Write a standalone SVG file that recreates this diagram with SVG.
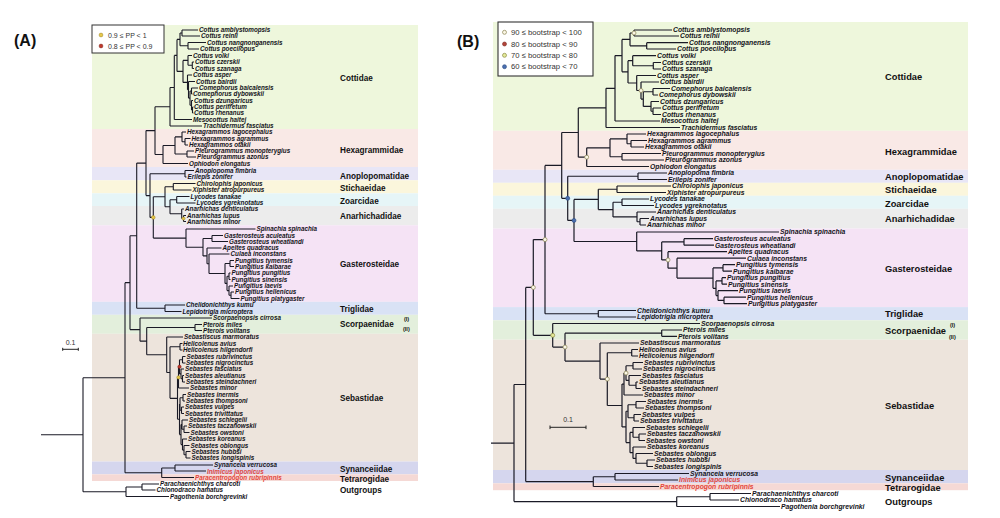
<svg xmlns="http://www.w3.org/2000/svg" width="1000" height="518" viewBox="0 0 1000 518">
<style>
.tA{font-family:"Liberation Sans",Arial,sans-serif;font-style:italic;font-weight:bold;font-size:6.3px;fill:#141420}
.tB{font-family:"Liberation Sans",Arial,sans-serif;font-style:italic;font-weight:bold;font-size:6.8px;fill:#141420}
.red{fill:#e4473c}
.fA{font-family:"Liberation Sans",Arial,sans-serif;font-weight:bold;font-size:8.2px;fill:#111}
.fB{font-family:"Liberation Sans",Arial,sans-serif;font-weight:bold;font-size:9.3px;fill:#111}
.rom{font-family:"Liberation Sans",Arial,sans-serif;font-weight:bold;font-size:5.5px;fill:#111}
.lg{font-family:"Liberation Sans",Arial,sans-serif;font-size:7px;fill:#333}
.lgB{font-family:"Liberation Sans",Arial,sans-serif;font-size:7.7px;fill:#333}
.pl{font-family:"Liberation Sans",Arial,sans-serif;font-weight:bold;font-size:16px;fill:#111}
.br{fill:none;stroke:#1a1a26;stroke-width:1.1}
.brB{fill:none;stroke:#1a1a26;stroke-width:1.2}
.c90{fill:#fbf7e6;stroke:#8a8250;stroke-width:0.7}
.c80{fill:#b4443a;stroke:#7a2a22;stroke-width:0.6}
.c70{fill:#e4ea9a;stroke:#8a8a40;stroke-width:0.7}
.c60{fill:#4a6fb0;stroke:#2a4a80;stroke-width:0.6}
.cy{fill:#e6c84a;stroke:#9a8020;stroke-width:0.5}
.cr{fill:#c0392b;stroke:#7a2018;stroke-width:0.5}
.sc{fill:none;stroke:#222;stroke-width:1}
</style>
<rect x="0" y="0" width="1000" height="518" fill="#fff"/>

<!-- ================= PANEL A ================= -->
<g id="A-bands">
<rect x="92" y="25" width="326" height="104" fill="#eef7dc"/>
<rect x="92" y="129" width="326" height="38" fill="#f9e9e6"/>
<rect x="92" y="167" width="326" height="13.3" fill="#e8e6f6"/>
<rect x="92" y="180.3" width="326" height="13" fill="#fbf6dc"/>
<rect x="92" y="193.3" width="326" height="12.7" fill="#e6f5f7"/>
<rect x="92" y="206" width="326" height="19.3" fill="#ececec"/>
<rect x="92" y="225.3" width="326" height="76.5" fill="#f5e3f5"/>
<rect x="92" y="301.8" width="326" height="13" fill="#d9e2f5"/>
<rect x="92" y="314.8" width="326" height="19" fill="#e3efdc"/>
<rect x="92" y="333.8" width="326" height="127.7" fill="#ede4dc"/>
<rect x="92" y="461.5" width="326" height="12.8" fill="#d5d6ee"/>
<rect x="92" y="474.3" width="326" height="6.7" fill="#f5d9d5"/>
</g>
<text class="pl" x="14" y="46">(A)</text>
<g id="A-legend">
<rect x="92" y="25" width="72" height="28" fill="#fff" stroke="#333" stroke-width="1"/>
<circle class="cy" cx="101" cy="35" r="1.9"/>
<text class="lg" x="108" y="37.5">0.9 ≤ PP &lt; 1</text>
<circle class="cr" cx="101" cy="46" r="1.9"/>
<text class="lg" x="108" y="48.5">0.8 ≤ PP &lt; 0.9</text>
</g>
<g id="A-scale">
<text class="lg" x="70.5" y="345" text-anchor="middle" font-size="6.5">0.1</text>
<path class="sc" d="M62.7 349.3H78.3M62.7 347.8V350.8M78.3 347.8V350.8"/>
</g>
<g id="A-connectors">
<path class="br" d="M41 434.7H83M83 377.7V491.75M83 377.7H125M125 282.65V472.75M83 491.75H126M126 487V496.5M126 487H142M142 484V490M142 484H159M142 490H155.5M126 496.5H169
M125 472.75H161.7M161.7 468V477.5M161.7 468H175M175 465V471M175 465H213M175 471H206M161.7 477.5H194
M125 282.65H130M130 235.7V329.6M130 235.7H136.7M136.7 163.1V308.25M136.7 308.25H165M165 305V311.5M165 305H185M165 311.5H181.5
M136.7 163.1H146M146 130.6V195.6M146 130.6H155M155 106.7V154.5
M155 106.7H170M170 87.45V126M170 126H202M170 87.45H174.3M174.3 55.4V119.5M174.3 119.5H192
M174.3 55.4H177M177 39.4V71.4M177 39.4H180M180 33V45.75M180 33H182M182 30V36M182 30H198M182 36H200M180 45.75H188M188 42.5V49M188 42.5H206M188 49H199
M177 71.4H183M183 60.4V82.4M183 60.4H188M188 55.5V65.25M188 55.5H192M188 65.25H192.3M192.3 62V68.5M192.3 62H194M192.3 68.5H194
M183 82.4H187.5M187.5 75V89.8M187.5 75H192M187.5 89.8H188.5M188.5 81.5V98.1M188.5 81.5H195M188.5 98.1H190M190 91V105.25M190 91H191.5M191.5 88V94M191.5 88H198M191.5 94H192.5M190 105.25H191.5M191.5 100.5V110M191.5 100.5H193M191.5 110H192.5M192.5 107V113M192.5 107H193.5M192.5 113H193.5
M155 154.5H163M163 145.45V163.5M163 163.5H188M163 145.45H175M175 136.9V154M175 136.9H182M182 132V141.75M182 132H186M182 141.75H185M185 138.5V145M185 138.5H190.5M185 145H188M175 154H187M187 151V157M187 151H194M187 157H196
M146 195.6H150M150 173.75V217.4M150 173.75H185M185 170.5V177M185 170.5H194M185 177H186.5
M150 217.4H153.3M153.3 196.75V238.1M153.3 196.75H165M165 186.75V206.75M165 186.75H173.3M173.3 183.5V190M173.3 183.5H195.5M173.3 190H191.5
M165 206.75H170M170 199.75V213.75M170 199.75H176.7M176.7 196.5V203M176.7 196.5H189.5M176.7 203H195.5M170 213.75H181.7M181.7 209V218.5M181.7 209H184M181.7 218.5H183.5M183.5 215.5V221.5M183.5 215.5H186M183.5 221.5H186
M153.3 238.1H186M186 229V247.2M186 229H255.5M186 247.2H203M203 238.5V255.9M203 238.5H212M212 235.5V241.5M212 235.5H223M212 241.5H228
M203 255.9H207M207 248V263.7M207 248H221.5M207 263.7H209M209 254V273.5M209 254H229.5M209 273.5H225M225 263.5V283.4M225 263.5H230M230 260.5V266.5M230 260.5H234M230 266.5H234
M225 283.4H227M227 276.25V290.6M227 276.25H229M229 273V279.5M229 273H230.5M229 279.5H230.5M227 290.6H229M229 286V295.25M229 286H233M229 295.25H231M231 292V298.5M231 292H234M231 298.5H239.5
M130 329.6H140M140 318V341.15M140 318H212M140 341.15H146.7M146.7 327.5V354.8M146.7 327.5H195M195 324.5V330.5M195 324.5H202M195 330.5H202
M146.7 354.8H166.7M166.7 337V372.55M166.7 337H183M166.7 372.55H170M170 346.75V398.35M170 346.75H180M180 343.5V350M180 343.5H182.5M180 350H182.5"/>
<path class="br" stroke-width="1.4" d="M170 398.35H177.5M177.5 377.4V419.3M177.5 377.4H178.5M178.5 366.8V388M178.5 388H189M178.5 366.8H179.5M179.5 359.75V373.9M179.5 359.75H182.5M182.5 356.5V363M182.5 356.5H185.5M182.5 363H185.5M179.5 373.9H181M181 369V378.75M181 369H184M181 378.75H182.5M182.5 375.5V382M182.5 375.5H184M182.5 382H185
M177.5 419.3H179.5M179.5 404V434.6M179.5 404H180M180 397.75V410.25M180 397.75H183M183 394.5V401M183 394.5H186M183 401H185M180 410.25H181.5M181.5 407V413.5M181.5 407H184M181.5 413.5H184
M179.5 434.6H181M181 424.6V444.6M181 424.6H182M182 420V429.25M182 420H188M182 429.25H184M184 426V432.5M184 426H187M184 432.5H189.5M181 444.6H182.5M182.5 439V450.1M182.5 439H187M182.5 450.1H184M184 445.5V454.75M184 445.5H189.5M184 454.75H186M186 451.5V458M186 451.5H190.5M186 458H190.5"/>
<circle class="cy" cx="153.3" cy="217.4" r="1.8"/>
<circle class="cy" cx="183.5" cy="218.5" r="1.6"/>
<circle class="cr" cx="179.5" cy="366.8" r="1.7"/>
<circle class="cy" cx="178.5" cy="377.4" r="1.7"/>
</g>
<g id="A-taxa">
<g id="A-cottidae">
<text class="tA" x="199" y="32.2">Cottus amblystomopsis</text>
<text class="tA" x="201" y="38.2">Cottus reinii</text>
<text class="tA" x="207" y="44.7">Cottus nangnonganensis</text>
<text class="tA" x="200" y="51.2">Cottus poecilopus</text>
<text class="tA" x="193" y="57.7">Cottus volki</text>
<text class="tA" x="195" y="64.2">Cottus czerskii</text>
<text class="tA" x="195" y="70.7">Cottus szanaga</text>
<text class="tA" x="193" y="77.2">Cottus asper</text>
<text class="tA" x="196" y="83.7">Cottus bairdii</text>
<text class="tA" x="199" y="90.2">Comephorus baicalensis</text>
<text class="tA" x="193" y="96.2">Comephorus dybowskii</text>
<text class="tA" x="194" y="102.7">Cottus dzungaricus</text>
<text class="tA" x="194" y="109.2">Cottus perifretum</text>
<text class="tA" x="194" y="115.2">Cottus rhenanus</text>
<text class="tA" x="193" y="121.7">Mesocottus haitej</text>
<text class="tA" x="203" y="128.2">Trachidermus fasciatus</text>
<text class="fA" x="340" y="81">Cottidae</text>
</g>
<g id="A-hexagrammidae">
<text class="tA" x="187" y="134.2">Hexagrammos lagocephalus</text>
<text class="tA" x="191.5" y="140.7">Hexagrammos agrammus</text>
<text class="tA" x="189" y="147.2">Hexagrammos otakii</text>
<text class="tA" x="195" y="153.2">Pleurogrammus monopterygius</text>
<text class="tA" x="197" y="159.2">Pleurogrammus azonus</text>
<text class="tA" x="189" y="165.7">Ophiodon elongatus</text>
<text class="fA" x="340" y="153">Hexagrammidae</text>
</g>
<g id="A-anoplopomatidae">
<text class="tA" x="195" y="172.7">Anoplopoma fimbria</text>
<text class="tA" x="187.5" y="179.2">Erilepis zonifer</text>
<text class="fA" x="340" y="178.5">Anoplopomatidae</text>
</g>
<g id="A-stichaeidae">
<text class="tA" x="196.5" y="185.7">Chirolophis japonicus</text>
<text class="tA" x="192.5" y="192.2">Xiphister atropurpureus</text>
<text class="fA" x="340" y="191">Stichaeidae</text>
</g>
<g id="A-zoarcidae">
<text class="tA" x="190.5" y="198.7">Lycodes tanakae</text>
<text class="tA" x="196.5" y="205.2">Lycodes ygreknotatus</text>
<text class="fA" x="340" y="204">Zoarcidae</text>
</g>
<g id="A-anarhichadidae">
<text class="tA" x="185" y="211.2">Anarhichas denticulatus</text>
<text class="tA" x="187" y="217.7">Anarhichas lupus</text>
<text class="tA" x="187" y="223.7">Anarhichas minor</text>
<text class="fA" x="340" y="219">Anarhichadidae</text>
</g>
<g id="A-gasterosteidae">
<text class="tA" x="256.5" y="231.2">Spinachia spinachia</text>
<text class="tA" x="224" y="237.7">Gasterosteus aculeatus</text>
<text class="tA" x="229" y="243.7">Gasterosteus wheatlandi</text>
<text class="tA" x="222.5" y="250.2">Apeltes quadracus</text>
<text class="tA" x="230.5" y="256.2">Culaea inconstans</text>
<text class="tA" x="235" y="262.7">Pungitius tymensis</text>
<text class="tA" x="235" y="268.7">Pungitius kaibarae</text>
<text class="tA" x="231.5" y="275.2">Pungitius pungitius</text>
<text class="tA" x="231.5" y="281.7">Pungitius sinensis</text>
<text class="tA" x="234" y="288.2">Pungitius laevis</text>
<text class="tA" x="235" y="294.2">Pungitius hellenicus</text>
<text class="tA" x="240.5" y="300.7">Pungitius platygaster</text>
<text class="fA" x="340" y="267">Gasterosteidae</text>
</g>
<g id="A-triglidae">
<text class="tA" x="186" y="307.2">Chelidonichthys kumu</text>
<text class="tA" x="182.5" y="313.7">Lepidotrigla microptera</text>
<text class="fA" x="340" y="312">Triglidae</text>
</g>
<g id="A-scorpaenidae">
<text class="tA" x="213" y="320.2">Scorpaenopsis cirrosa</text>
<text class="tA" x="203" y="326.7">Pterois miles</text>
<text class="tA" x="203" y="332.7">Pterois volitans</text>
<text class="fA" x="340" y="327">Scorpaenidae</text>
<text class="rom" x="404" y="320.5">(I)</text>
<text class="rom" x="403" y="330.5">(II)</text>
</g>
<g id="A-sebastidae">
<text class="tA" x="184" y="339.2">Sebastiscus marmoratus</text>
<text class="tA" x="183" y="345.7">Helicolenus avius</text>
<text class="tA" x="183" y="352.2">Helicolenus hilgendorfi</text>
<text class="tA" x="186.5" y="358.7">Sebastes rubrivinctus</text>
<text class="tA" x="186" y="365.2">Sebastes nigrocinctus</text>
<text class="tA" x="185" y="371.2">Sebastes fasciatus</text>
<text class="tA" x="185" y="377.7">Sebastes aleutianus</text>
<text class="tA" x="186" y="384.2">Sebastes steindachneri</text>
<text class="tA" x="190" y="390.2">Sebastes minor</text>
<text class="tA" x="187" y="396.7">Sebastes inermis</text>
<text class="tA" x="186" y="403.2">Sebastes thompsoni</text>
<text class="tA" x="185" y="409.2">Sebastes vulpes</text>
<text class="tA" x="185" y="415.7">Sebastes trivittatus</text>
<text class="tA" x="189" y="422.2">Sebastes schlegelii</text>
<text class="tA" x="188" y="428.2">Sebastes taczanowskii</text>
<text class="tA" x="190.5" y="434.7">Sebastes owstoni</text>
<text class="tA" x="188" y="441.2">Sebastes koreanus</text>
<text class="tA" x="190.5" y="447.7">Sebastes oblongus</text>
<text class="tA" x="191.5" y="453.7">Sebastes hubbsi</text>
<text class="tA" x="191.5" y="460.2">Sebastes longispinis</text>
<text class="fA" x="340" y="401">Sebastidae</text>
</g>
<g id="A-synanceiidae">
<text class="tA" x="214" y="467.2">Synanceia verrucosa</text>
<text class="tA red" x="207" y="473.6" font-size="7.1">Inimicus japonicus</text>
<text class="fA" x="340" y="472">Synanceiidae</text>
</g>
<g id="A-tetrarogidae">
<text class="tA red" x="195" y="480.2" font-size="7.4">Paracentropogon rubripinnis</text>
<text class="fA" x="340" y="481.5">Tetrarogidae</text>
</g>
<g id="A-outgroups">
<text class="tA" x="160" y="486.2">Parachaenichthys charcoti</text>
<text class="tA" x="156.5" y="492.2">Chionodraco hamatus</text>
<text class="tA" x="170" y="498.7">Pagothenia borchgrevinki</text>
<text class="fA" x="340" y="493">Outgroups</text>
</g>
</g>

<!-- ================= PANEL B ================= -->
<g id="B-bands">
<rect x="493" y="22" width="475" height="108.8" fill="#eef7dc"/>
<rect x="493" y="130.8" width="475" height="39" fill="#f9e9e6"/>
<rect x="493" y="169.8" width="475" height="13" fill="#e8e6f6"/>
<rect x="493" y="182.8" width="475" height="13" fill="#fbf6dc"/>
<rect x="493" y="195.8" width="475" height="13" fill="#e6f5f7"/>
<rect x="493" y="208.8" width="475" height="19.7" fill="#ececec"/>
<rect x="493" y="228.5" width="475" height="78.6" fill="#f5e3f5"/>
<rect x="493" y="307.1" width="475" height="13.2" fill="#d9e2f5"/>
<rect x="493" y="320.3" width="475" height="19.4" fill="#e3efdc"/>
<rect x="493" y="339.7" width="475" height="130.3" fill="#ede4dc"/>
<rect x="493" y="470" width="475" height="13.3" fill="#d5d6ee"/>
<rect x="493" y="483.3" width="475" height="6.9" fill="#f5d9d5"/>
</g>
<text class="pl" x="457" y="47">(B)</text>
<g id="B-legend">
<rect x="498" y="22" width="95" height="54" fill="#fff" stroke="#333" stroke-width="1.1"/>
<circle class="c90" cx="504.5" cy="32.3" r="2"/>
<text class="lgB" x="511" y="35">90 ≤ bootstrap &lt; 100</text>
<circle class="c80" cx="504.5" cy="44" r="2"/>
<text class="lgB" x="511" y="46.7">80 ≤ bootstrap &lt; 90</text>
<circle class="c70" cx="504.5" cy="55.3" r="2"/>
<text class="lgB" x="511" y="58">70 ≤ bootstrap &lt; 80</text>
<circle class="c60" cx="504.5" cy="66.7" r="2"/>
<text class="lgB" x="511" y="69.4">60 ≤ bootstrap &lt; 70</text>
</g>
<g id="B-scale">
<text class="lg" x="568" y="422" text-anchor="middle" font-size="6.5">0.1</text>
<path class="sc" d="M550 427.3H586M550 425.5V429.1M586 425.5V429.1"/>
</g>
<g id="B-connectors">
<path class="brB" d="M491 443.05H514M514 384.5V501.6M514 384.5H525.7M525.7 287.45V481.6M514 501.6H676.7M676.7 496.75V506.5M676.7 506.5H780M676.7 496.75H710M710 493.5V500M710 493.5H751M710 500H739
M525.7 481.6H593.3M593.3 476.75V486.5M593.3 486.5H659M593.3 476.75H615M615 473.5V480M615 473.5H689M615 480H678
M525.7 287.45H533.3M533.3 239.6V335.3M533.3 239.6H545M545 165.4V313.75M545 313.75H598.3M598.3 310.5V317M598.3 310.5H636M598.3 317H636
M545 165.4H561.7M561.7 132.5V198.35M561.7 132.5H578.3M578.3 107.9V157.15
M578.3 107.9H606M606 88.3V127.5M606 127.5H680M606 88.3H615M615 55.6V121M615 121H660M615 55.6H622M622 39.4V71.85
M622 39.4H630M630 33V45.85M630 33H634M634 30V36M634 30H672M634 36H679M630 45.85H646.7M646.7 42.7V49M646.7 42.7H688M646.7 49H676
M622 71.85H628M628 60.7V83M628 60.7H632.7M632.7 55.7V65.75M632.7 55.7H656M632.7 65.75H653.3M653.3 62.5V69M653.3 62.5H661M653.3 69H661
M628 83H636.7M636.7 75.5V90.5M636.7 75.5H656M636.7 90.5H641M641 82V99.1M641 82H659M641 99.1H643.3M643.3 91.75V106.4M643.3 91.75H653M653 88.5V95M653 88.5H670M653 95H658M643.3 106.4H651M651 101.5V111.25M651 101.5H659M651 111.25H653M653 108V114.5M653 108H661M653 114.5H661
M578.3 157.15H586.7M586.7 147.8V166.5M586.7 166.5H649M586.7 147.8H610M610 138.9V156.75M610 138.9H627M627 134V143.75M627 134H646M627 143.75H631M631 140.5V147M631 140.5H647M631 147H644M610 156.75H622M622 153.5V160M622 153.5H661M622 160H664
M561.7 198.35H567.7M567.7 176.25V220.45M567.7 176.25H638M638 173V179.5M638 173H667M638 179.5H667
M567.7 220.45H574M574 199.4V241.5M574 199.4H598.3M598.3 189.25V209.6M598.3 189.25H617M617 186V192.5M617 186H671M617 192.5H666
M598.3 209.6H613M613 202.25V216.9M613 202.25H622M622 199V205.5M622 199H649M622 205.5H654M613 216.9H637M637 212V221.75M637 212H656M637 221.75H640M640 218.5V225M640 218.5H649M640 225H646
M574 241.5H636.7M636.7 232V250.9M636.7 232H779M636.7 250.9H661.7M661.7 241.95V259.9M661.7 241.95H684M684 238.7V245.2M684 238.7H713M684 245.2H714
M661.7 259.9H668M668 251.7V268.15M668 251.7H727M668 268.15H677M677 258.2V278.1M677 258.2H746M677 278.1H713M713 267.95V288.3M713 267.95H723M723 264.7V271.2M723 264.7H735M723 271.2H732
M713 288.3H716M716 280.95V295.6M716 280.95H722M722 277.7V284.2M722 277.7H726M722 284.2H727M716 295.6H718M718 290.7V300.45M718 290.7H738M718 300.45H724M724 297.2V303.7M724 297.2H746M724 303.7H747
M533.3 335.3H552.7M552.7 323.5V347.1M552.7 323.5H700M552.7 347.1H565M565 333.15V361.05M565 333.15H661.7M661.7 330V336.3M661.7 330H682M661.7 336.3H677
M565 361.05H600M600 343V379.1M600 343H639M600 379.1H607.3M607.3 352.75V405.5M607.3 352.75H631.7M631.7 349.5V356M631.7 349.5H638M631.7 356H638"/>
<path class="brB" stroke-width="1.5" d="M607.3 405.5H622M622 384.05V426.9M622 384.05H624M624 373.1V395M624 395H643M624 373.1H626M626 365.75V380.4M626 365.75H633M633 362.5V369M633 362.5H643M633 369H642M626 380.4H629M629 375.5V385.25M629 375.5H641M629 385.25H636M636 382V388.5M636 382H638M636 388.5H641
M622 426.9H626M626 411.25V442.55M626 411.25H628M628 404.75V417.75M628 404.75H636M636 401.5V408M636 401.5H646M636 408H644M628 417.75H634M634 414.5V421M634 414.5H641M634 421H639
M626 442.55H630M630 432.4V452.7M630 432.4H633M633 427.5V437.25M633 427.5H645M633 437.25H639M639 434V440.5M639 434H646M639 440.5H645M630 452.7H633M633 447V458.4M633 447H646M633 458.4H636M636 453.5V463.25M636 453.5H653M636 463.25H647M647 460V466.5M647 460H655M647 466.5H653"/>
<circle class="c90" cx="634" cy="33" r="2"/>
<circle class="c90" cx="641" cy="90.5" r="2"/>
<circle class="c90" cx="586.7" cy="157.15" r="2"/>
<circle class="c60" cx="567.7" cy="198.35" r="2"/>
<circle class="c60" cx="574" cy="220.45" r="2"/>
<circle class="c90" cx="545" cy="239.6" r="2"/>
<circle class="c90" cx="533.3" cy="287.45" r="2"/>
<circle class="c70" cx="552.7" cy="335.3" r="2"/>
<circle class="c90" cx="565" cy="347.1" r="2"/>
<circle class="c90" cx="668" cy="259.9" r="2"/>
<circle class="c90" cx="607.3" cy="379.1" r="2"/>
<circle class="c90" cx="626" cy="373.1" r="2"/>
</g>
<g id="B-taxa">
<g id="B-cottidae">
<text class="tB" x="673" y="32.4">Cottus amblystomopsis</text>
<text class="tB" x="680" y="38.4">Cottus reinii</text>
<text class="tB" x="689" y="45.1">Cottus nangnonganensis</text>
<text class="tB" x="677" y="51.4">Cottus poecilopus</text>
<text class="tB" x="657" y="58.1">Cottus volki</text>
<text class="tB" x="662" y="64.9">Cottus czerskii</text>
<text class="tB" x="662" y="71.4">Cottus szanaga</text>
<text class="tB" x="657" y="77.9">Cottus asper</text>
<text class="tB" x="660" y="84.4">Cottus bairdii</text>
<text class="tB" x="671" y="90.9">Comephorus baicalensis</text>
<text class="tB" x="659" y="97.4">Comephorus dybowskii</text>
<text class="tB" x="660" y="103.9">Cottus dzungaricus</text>
<text class="tB" x="662" y="110.4">Cottus perifretum</text>
<text class="tB" x="662" y="116.9">Cottus rhenanus</text>
<text class="tB" x="661" y="123.4">Mesocottus haitej</text>
<text class="tB" x="681" y="129.9">Trachidermus fasciatus</text>
<text class="fB" x="885" y="80">Cottidae</text>
</g>
<g id="B-hexagrammidae">
<text class="tB" x="647" y="136.4">Hexagrammos lagocephalus</text>
<text class="tB" x="648" y="142.9">Hexagrammos agrammus</text>
<text class="tB" x="645" y="149.4">Hexagrammos otakii</text>
<text class="tB" x="662" y="155.9">Pleurogrammus monopterygius</text>
<text class="tB" x="665" y="162.4">Pleurogrammus azonus</text>
<text class="tB" x="650" y="168.9">Ophiodon elongatus</text>
<text class="fB" x="885" y="154.5">Hexagrammidae</text>
</g>
<g id="B-anoplopomatidae">
<text class="tB" x="668" y="175.4">Anoplopoma fimbria</text>
<text class="tB" x="668" y="181.9">Erilepis zonifer</text>
<text class="fB" x="885" y="180">Anoplopomatidae</text>
</g>
<g id="B-stichaeidae">
<text class="tB" x="672" y="188.4">Chirolophis japonicus</text>
<text class="tB" x="667" y="194.9">Xiphister atropurpureus</text>
<text class="fB" x="885" y="192.5">Stichaeidae</text>
</g>
<g id="B-zoarcidae">
<text class="tB" x="650" y="201.4">Lycodes tanakae</text>
<text class="tB" x="655" y="207.9">Lycodes ygreknotatus</text>
<text class="fB" x="885" y="206.5">Zoarcidae</text>
</g>
<g id="B-anarhichadidae">
<text class="tB" x="657" y="214.4">Anarhichas denticulatus</text>
<text class="tB" x="650" y="220.9">Anarhichas lupus</text>
<text class="tB" x="647" y="227.4">Anarhichas minor</text>
<text class="fB" x="885" y="222">Anarhichadidae</text>
</g>
<g id="B-gasterosteidae">
<text class="tB" x="780" y="234.4">Spinachia spinachia</text>
<text class="tB" x="714" y="241.1">Gasterosteus aculeatus</text>
<text class="tB" x="715" y="247.6">Gasterosteus wheatlandi</text>
<text class="tB" x="728" y="254.1">Apeltes quadracus</text>
<text class="tB" x="747" y="260.6">Culaea inconstans</text>
<text class="tB" x="736" y="267.1">Pungitius tymensis</text>
<text class="tB" x="733" y="273.6">Pungitius kaibarae</text>
<text class="tB" x="727" y="280.1">Pungitius pungitius</text>
<text class="tB" x="728" y="286.6">Pungitius sinensis</text>
<text class="tB" x="739" y="293.1">Pungitius laevis</text>
<text class="tB" x="747" y="299.6">Pungitius hellenicus</text>
<text class="tB" x="748" y="306.1">Pungitius platygaster</text>
<text class="fB" x="885" y="271.5">Gasterosteidae</text>
</g>
<g id="B-triglidae">
<text class="tB" x="637" y="312.9">Chelidonichthys kumu</text>
<text class="tB" x="637" y="319.4">Lepidotrigla microptera</text>
<text class="fB" x="885" y="317">Triglidae</text>
</g>
<g id="B-scorpaenidae">
<text class="tB" x="701" y="325.9">Scorpaenopsis cirrosa</text>
<text class="tB" x="683" y="332.4">Pterois miles</text>
<text class="tB" x="678" y="338.7">Pterois volitans</text>
<text class="fB" x="885" y="333.5">Scorpaenidae</text>
<text class="rom" x="950" y="326.5" font-size="6">(I)</text>
<text class="rom" x="949" y="338.5" font-size="6">(II)</text>
</g>
<g id="B-sebastidae">
<text class="tB" x="640" y="345.4">Sebastiscus marmoratus</text>
<text class="tB" x="639" y="351.9">Helicolenus avius</text>
<text class="tB" x="639" y="358.4">Helicolenus hilgendorfi</text>
<text class="tB" x="644" y="364.9">Sebastes rubrivinctus</text>
<text class="tB" x="643" y="371.4">Sebastes nigrocinctus</text>
<text class="tB" x="642" y="377.9">Sebastes fasciatus</text>
<text class="tB" x="639" y="384.4">Sebastes aleutianus</text>
<text class="tB" x="642" y="390.9">Sebastes steindachneri</text>
<text class="tB" x="644" y="397.4">Sebastes minor</text>
<text class="tB" x="647" y="403.9">Sebastes inermis</text>
<text class="tB" x="645" y="410.4">Sebastes thompsoni</text>
<text class="tB" x="642" y="416.9">Sebastes vulpes</text>
<text class="tB" x="640" y="423.4">Sebastes trivittatus</text>
<text class="tB" x="646" y="429.9">Sebastes schlegelii</text>
<text class="tB" x="647" y="436.4">Sebastes taczanowskii</text>
<text class="tB" x="646" y="442.9">Sebastes owstoni</text>
<text class="tB" x="647" y="449.4">Sebastes koreanus</text>
<text class="tB" x="654" y="455.9">Sebastes oblongus</text>
<text class="tB" x="656" y="462.4">Sebastes hubbsi</text>
<text class="tB" x="654" y="468.9">Sebastes longispinis</text>
<text class="fB" x="885" y="409">Sebastidae</text>
</g>
<g id="B-synanceiidae">
<text class="tB" x="690" y="475.9">Synanceia verrucosa</text>
<text class="tB red" x="679" y="482.4">Inimicus japonicus</text>
<text class="fB" x="885" y="481">Synanceiidae</text>
</g>
<g id="B-tetrarogidae">
<text class="tB red" x="660" y="488.9" font-size="7.4">Paracentropogon rubripinnis</text>
<text class="fB" x="885" y="491">Tetrarogidae</text>
</g>
<g id="B-outgroups">
<text class="tB" x="752" y="495.9">Parachaenichthys charcoti</text>
<text class="tB" x="740" y="502.4">Chionodraco hamatus</text>
<text class="tB" x="781" y="508.9">Pagothenia borchgrevinki</text>
<text class="fB" x="885" y="504.5">Outgroups</text>
</g>
</g>
</svg>
